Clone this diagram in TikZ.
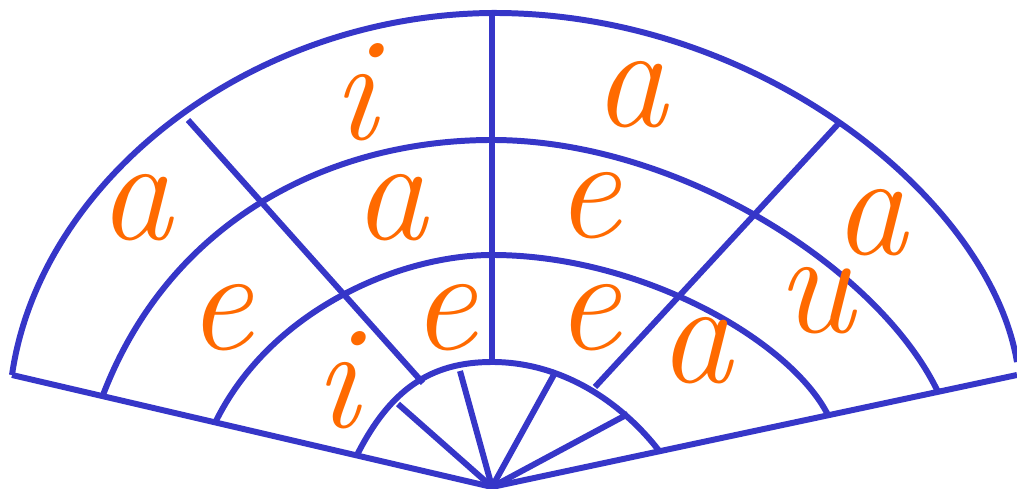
\documentclass[tikz,border=0pt]{standalone}
\usepackage{tikz}
\definecolor{fanblue}{RGB}{54,54,200}
\definecolor{vowel}{RGB}{255,106,0}
\tikzset{
  fan/.style={draw=fanblue, line width=1.7pt, line join=round},
  vowelnode/.style={text=vowel, anchor=base, inner sep=0pt, font=\fontsize{42}{42}\selectfont\itshape}
}

\begin{document}
\begin{tikzpicture}[x=0.01cm, y=-0.01cm]
\useasboundingbox (0,0) rectangle (1017,489);

% Fan edges
\draw[fan] (12,375) -- (492,487) -- (1017,375);

% Rings
\draw[fan] (12,375) .. controls (40,180) and (250,15) .. (492,13)
                    .. controls (760,12) and (990,200) .. (1017,362);
\draw[fan] (103,395) .. controls (170,220) and (330,140) .. (492,140)
                     .. controls (680,140) and (880,270) .. (938,392);
\draw[fan] (215,423) .. controls (270,310) and (400,255) .. (492,255)
                     .. controls (640,255) and (790,340) .. (828,415);
\draw[fan] (357,455) .. controls (390,390) and (430,362) .. (492,362)
                     .. controls (560,362) and (620,400) .. (660,452);

% Spokes
\draw[fan] (492,362) -- (492,12);
\draw[fan] (423,383) -- (188,120);
\draw[fan] (595,387) -- (840,122);
\foreach \x/\y in {398/404, 460/371, 556/371, 628/414}
  \draw[fan] (492,487) -- (\x,\y);

% Vowels
\foreach \x/\y/\l [count=\i] in {135/240/a, 355/140/i, 630/127/a, 390/240/a, 588/238/e, 870/255/a,
    220/350/e, 444/350/e, 588/350/e, 815/333/u, 695/383/a, 337/428/i}
  \node[vowelnode] (v\i) at (\x,\y) {\l};
\end{tikzpicture}
\end{document}
